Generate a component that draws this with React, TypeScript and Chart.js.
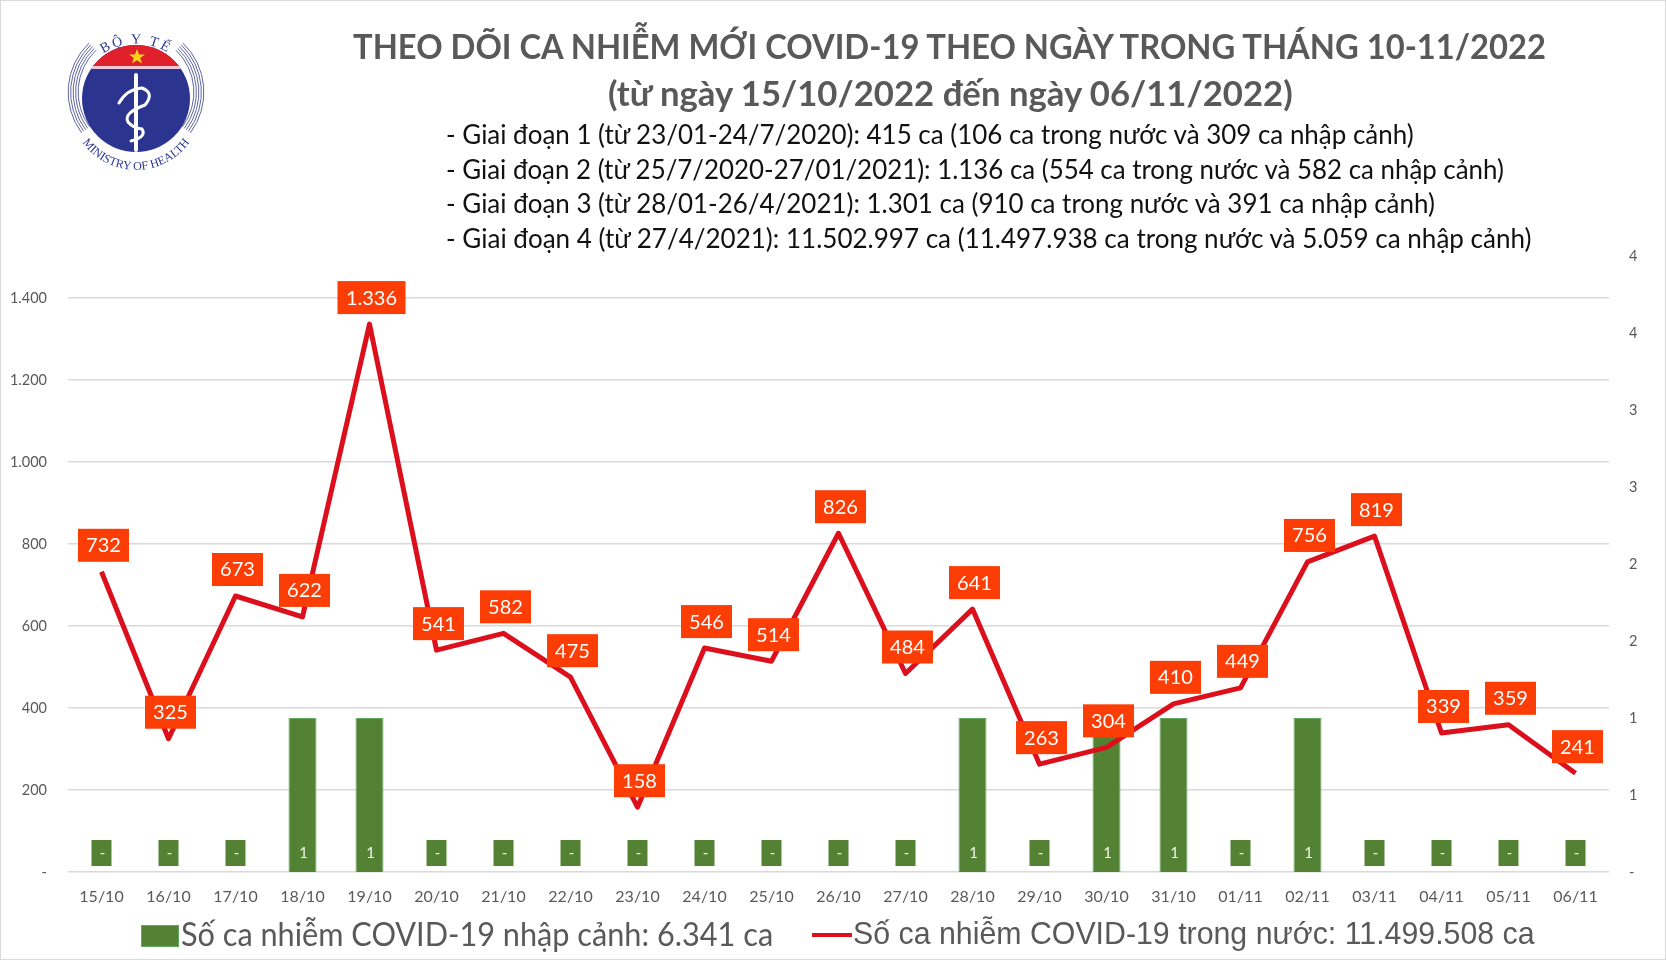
import { useEffect, useLayoutEffect, useRef } from 'react'
import { Chart, registerables } from 'chart.js'

Chart.register(...registerables)

const days = [
  '15/10', '16/10', '17/10', '18/10', '19/10', '20/10', '21/10', '22/10', '23/10', '24/10', '25/10', '26/10',
  '27/10', '28/10', '29/10', '30/10', '31/10', '01/11', '02/11', '03/11', '04/11', '05/11', '06/11',
]
const domestic = [732, 325, 673, 622, 1336, 541, 582, 475, 158, 546, 514, 826, 484, 641, 263, 304, 410, 449, 756, 819, 339, 359, 241]
const imported = [0, 0, 0, 1, 1, 0, 0, 0, 0, 0, 0, 0, 0, 1, 0, 1, 1, 0, 1, 0, 0, 0, 0]
const domesticLabels = ['732', '325', '673', '622', '1.336', '541', '582', '475', '158', '546', '514', '826', '484', '641', '263', '304', '410', '449', '756', '819', '339', '359', '241']
const leftTicks = [0, 200, 400, 600, 800, 1000, 1200, 1400]
const leftTickLabels = ['-', '200', '400', '600', '800', '1.000', '1.200', '1.400']
const rightTicks = [0, 0.5, 1, 1.5, 2, 2.5, 3, 3.5, 4]
const rightTickLabels = ['-', '1', '1', '2', '2', '3', '3', '4', '4']

const phases = [
  '- Giai đoạn 1 (từ 23/01-24/7/2020): 415 ca (106 ca trong nước và 309 ca nhập cảnh)',
  '- Giai đoạn 2 (từ 25/7/2020-27/01/2021): 1.136 ca (554 ca trong nước và 582 ca nhập cảnh)',
  '- Giai đoạn 3 (từ 28/01-26/4/2021): 1.301 ca (910 ca trong nước và 391 ca nhập cảnh)',
  '- Giai đoạn 4 (từ 27/4/2021): 11.502.997 ca (11.497.938 ca trong nước và 5.059 ca nhập cảnh)',
]
const phaseRight = [1414, 1504, 1435, 1531]

const GREEN = '#548235'
const RED = '#dc101c'
const ORANGE = '#fc3d05'
const GREY = '#595959'

// red value boxes above the line, green boxes at the foot of the bars
const valueBoxes = {
  id: 'valueBoxes',
  afterDatasetsDraw(chart: Chart) {
    const ctx = chart.ctx
    const bars = chart.getDatasetMeta(0).data
    const line = chart.getDatasetMeta(1).data
    ctx.save()
    ctx.textAlign = 'center'
    ctx.textBaseline = 'middle'

    ctx.font = '15px Lato'
    bars.forEach((bar, i) => {
      ctx.fillStyle = GREEN
      ctx.fillRect(bar.x - 10, 840, 20, 26)
      ctx.fillStyle = '#f4f4ea'
      ctx.fillText(imported[i] === 0 ? '-' : String(imported[i]), bar.x + 1, 853)
    })

    ctx.font = '20px Lato'
    line.forEach((pt, i) => {
      const label = domesticLabels[i]
      const w = label.length > 3 ? 68 : 51
      ctx.fillStyle = ORANGE
      ctx.fillRect(pt.x + 2 - w / 2, pt.y - 43, w, 33)
      ctx.fillStyle = '#fff'
      ctx.fillText(label, pt.x + 2, pt.y - 26)
    })
    ctx.restore()
  },
}

function FitText({ x, y, right, size, weight, color, font, children }: any) {
  const ref = useRef<HTMLSpanElement>(null)
  useLayoutEffect(() => {
    const el = ref.current
    if (!el) return
    el.style.transform = `translateY(-50%) scaleX(${(right - x) / el.offsetWidth})`
  }, [x, right])
  return (
    <span
      ref={ref}
      style={{
        position: 'absolute',
        left: x,
        top: y,
        transform: 'translateY(-50%)',
        transformOrigin: '0 0',
        whiteSpace: 'nowrap',
        fontFamily: font,
        fontSize: size,
        fontWeight: weight,
        color,
        lineHeight: 1.3,
      }}
    >
      {children}
    </span>
  )
}

function Logo() {
  const arcs = [58, 60.5, 63, 65.5, 68]
  const cx = 79
  const cy = 67
  const topSin = 0.72
  const topCos = 0.69
  const botSin = 0.6
  const botCos = 0.8
  return (
    <svg width={160} height={160} viewBox="0 0 160 160" style={{ position: 'absolute', left: 57, top: 25, overflow: 'visible' }}>
      <defs>
        <clipPath id="disc">
          <ellipse cx={79} cy={73.5} rx={54} ry={53.5} />
        </clipPath>
        <path id="topArc" d="M 22 73.5 A 57 55 0 0 1 136 73.5" />
        <path id="botArc" d="M 15 95 A 66 66 0 0 0 143 95" />
      </defs>
      <ellipse cx={79} cy={73.5} rx={54} ry={53.5} fill="#2b3590" />
      <g clipPath="url(#disc)">
        <rect x={20} y={15} width={120} height={26} fill="#e0202a" />
        <rect x={20} y={41} width={120} height={3} fill="#f0c8d8" />
      </g>
      <polygon points="80,24 82,29.5 88,29.5 83.2,33 85,38.5 80,35.2 75,38.5 76.8,33 72,29.5 78,29.5" fill="#f6d51c" />
      {arcs.map((r) => (
        <g key={r} fill="none" stroke="#5f649f" strokeWidth={1}>
          <path d={`M ${cx - r * topCos} ${cy - r * topSin} A ${r} ${r} 0 0 0 ${cx - r * botCos} ${cy + r * botSin}`} />
          <path d={`M ${cx + r * topCos} ${cy - r * topSin} A ${r} ${r} 0 0 1 ${cx + r * botCos} ${cy + r * botSin}`} />
        </g>
      ))}
      <line x1={79} y1={50} x2={79} y2={125} stroke="#fff" strokeWidth={4} strokeLinecap="round" />
      <path
        d="M 62 78 Q 70 64 85 63 Q 98 68 88 80 Q 66 88 71 97 Q 76 103 85 104 Q 90 112 74 116"
        fill="none"
        stroke="#fff"
        strokeWidth={3}
        strokeLinecap="round"
      />
      <text fontFamily="Liberation Serif" fontSize={14} fill="#2b3590" letterSpacing={2.5}>
        <textPath href="#topArc" startOffset="50%" textAnchor="middle">BỘ Y TẾ</textPath>
      </text>
      <text fontFamily="Liberation Serif" fontSize={12} fill="#2b3590">
        <textPath href="#botArc" startOffset="50%" textAnchor="middle">MINISTRY OF HEALTH</textPath>
      </text>
    </svg>
  )
}

export default function App() {
  const canvasRef = useRef<HTMLCanvasElement>(null)
  const chartRef = useRef<Chart | null>(null)

  useEffect(() => {
    if (!canvasRef.current) return

    chartRef.current = new Chart(canvasRef.current, {
      type: 'bar',
      data: {
        labels: days,
        datasets: [
          {
            type: 'bar',
            label: 'Số ca nhiễm COVID-19 nhập cảnh: 6.341 ca',
            data: imported,
            yAxisID: 'y1',
            backgroundColor: GREEN,
            borderColor: '#63a860',
            borderWidth: 1,
            categoryPercentage: 1,
            barPercentage: 0.418,
            order: 2,
          },
          {
            type: 'line',
            label: 'Số ca nhiễm COVID-19 trong nước: 11.499.508 ca',
            data: domestic,
            yAxisID: 'y',
            borderColor: RED,
            borderWidth: 5,
            pointRadius: 0,
            tension: 0,
            borderJoinStyle: 'round',
            borderCapStyle: 'butt',
            order: 1,
          },
        ],
      },
      options: {
        responsive: false,
        animation: false,
        layout: { padding: { top: 256, left: 0, right: 0, bottom: 0 } },
        plugins: {
          legend: { display: false },
          tooltip: { enabled: false },
        },
        scales: {
          x: {
            offset: true,
            afterFit: (s: any) => { s.height = 88 },
            grid: { display: false },
            border: { display: false },
            ticks: {
              autoSkip: false,
              maxRotation: 0,
              padding: 7,
              color: GREY,
              font: { family: 'Lato', size: 16 },
            },
          },
          y: {
            position: 'left',
            min: 0,
            max: 1502,
            afterFit: (s: any) => { s.width = 68 },
            afterBuildTicks: (s: any) => { s.ticks = leftTicks.map((value) => ({ value })) },
            grid: { color: '#d9d9d9', lineWidth: 1.5, drawTicks: false },
            border: { display: false },
            ticks: {
              padding: 21,
              color: GREY,
              font: { family: 'Lato', size: 14.5 },
              callback: (_v: any, i: number) => leftTickLabels[i],
            },
          },
          y1: {
            position: 'right',
            min: 0,
            max: 4,
            afterFit: (s: any) => { s.width = 57 },
            afterBuildTicks: (s: any) => { s.ticks = rightTicks.map((value) => ({ value })) },
            grid: { display: false, drawTicks: false },
            border: { display: false },
            ticks: {
              padding: 20,
              color: GREY,
              font: { family: 'Lato', size: 14.5 },
              callback: (_v: any, i: number) => rightTickLabels[i],
            },
          },
        },
      },
      plugins: [valueBoxes],
    } as any)

    return () => {
      chartRef.current?.destroy()
      chartRef.current = null
    }
  }, [])

  return (
    <div style={{ position: 'absolute', left: 0, top: 0, width: 1666, height: 960, background: '#fff', overflow: 'hidden' }}>
      <canvas ref={canvasRef} width={1666} height={960} style={{ display: 'block' }} />
      <Logo />
      <FitText x={353} right={1546} y={46} size={34} weight={700} color={GREY} font="Lato">
        THEO DÕI CA NHIỄM MỚI COVID-19 THEO NGÀY TRONG THÁNG 10-11/2022
      </FitText>
      <FitText x={608} right={1293} y={93} size={34} weight={700} color={GREY} font="Lato">
        (từ ngày 15/10/2022 đến ngày 06/11/2022)
      </FitText>
      {phases.map((p, i) => (
        <FitText key={i} x={446} right={phaseRight[i]} y={135 + i * 34.6} size={26} color="#111" font="Lato">
          {p}
        </FitText>
      ))}
      <div style={{ position: 'absolute', left: 141, top: 925, width: 36, height: 20, background: GREEN, border: '1px solid #63a860' }} />
      <FitText x={181} right={773} y={933} size={33} color={GREY} font="Lato">
        Số ca nhiễm COVID-19 nhập cảnh: 6.341 ca
      </FitText>
      <div style={{ position: 'absolute', left: 812, top: 933, width: 40, height: 4, background: RED }} />
      <FitText x={853} right={1535} y={934} size={32} color={GREY} font="Liberation Sans">
        Số ca nhiễm COVID-19 trong nước: 11.499.508 ca
      </FitText>
      <div style={{ position: 'absolute', inset: 0, border: '1px solid #d9d9d9', pointerEvents: 'none' }} />
    </div>
  )
}
